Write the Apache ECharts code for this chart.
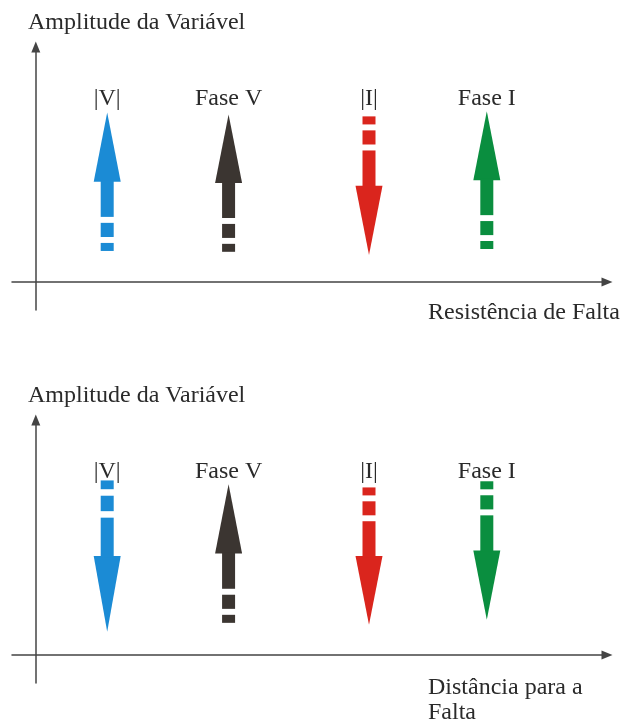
<!DOCTYPE html>
<html>
<head>
<meta charset="utf-8">
<script src="https://cdn.jsdelivr.net/npm/echarts@6/dist/echarts.min.js"></script>
<style>
  html, body { margin: 0; padding: 0; background: #fff; }
  #chart { width: 623px; height: 722px; }
</style>
</head>
<body>
<div id="chart"></div>
<script>
// categorias (rótulos das setas)
const rotulos = ['|V|', 'Fase V', '|I|', 'Fase I']
// posição de cada seta no eixo horizontal
const posicaoX = [3, 8.1, 14, 18.95]
// gráfico de cima: variação com a resistência de falta (cauda -> ponta)
const caudaResistencia = [1.11, 1.08, 5.92, 1.18]
const pontaResistencia = [6.06, 5.99, 0.97, 6.10]
// gráfico de baixo: variação com a distância para a falta
const caudaDistancia = [6.24, 1.15, 5.99, 6.21]
const pontaDistancia = [0.83, 6.10, 1.08, 1.26]
// altura dos rótulos acima das setas
const alturaRotulo = 6.56

const cores = ['#1B8BD5', '#3B3531', '#DA251D', '#0A8E3F']
const fonte = "'Liberation Serif', 'DejaVu Serif', serif"
const corTexto = '#2a2a2a'

const chart = echarts.init(document.getElementById('chart'))

// desenha uma seta com a cauda tracejada
function desenhaSeta (params, api) {
  const x = api.value(0)
  const p0 = api.coord([x, api.value(1)]) // cauda
  const p1 = api.coord([x, api.value(2)]) // ponta
  const cor = cores[params.dataIndex]
  const cx = p1[0]
  // ponto ao longo da seta, t = 0 na ponta e t = 1 na cauda
  const py = t => p1[1] + t * (p0[1] - p1[1])
  const largCabeca = 13.5
  const largHaste = 6.5
  const faixa = (a, b) => {
    const y1 = Math.min(py(a), py(b))
    const y2 = Math.max(py(a), py(b))
    return {
      type: 'rect',
      shape: { x: cx - largHaste, y: y1, width: largHaste * 2, height: y2 - y1 },
      style: { fill: cor }
    }
  }
  const rot = api.coord([x, alturaRotulo])
  return {
    type: 'group',
    children: [
      {
        type: 'polygon',
        shape: { points: [[cx, py(0)], [cx - largCabeca, py(0.5)], [cx + largCabeca, py(0.5)]] },
        style: { fill: cor }
      },
      faixa(0.49, 0.754),
      faixa(0.797, 0.899),
      faixa(0.942, 1.0),
      {
        type: 'text',
        style: {
          text: rotulos[params.dataIndex],
          x: rot[0],
          y: rot[1],
          align: 'center',
          verticalAlign: 'middle',
          font: '24px ' + fonte,
          fill: corTexto
        }
      }
    ]
  }
}

function montaDados (caudas, pontas) {
  return posicaoX.map((x, i) => [x, caudas[i], pontas[i]])
}

// eixos com seta na ponta
const eixoX = gridIndex => ({
  type: 'value',
  gridIndex,
  min: -1,
  max: 24,
  axisLine: {
    onZero: true,
    symbol: ['none', 'triangle'],
    symbolSize: [9, 11],
    lineStyle: { color: '#444', width: 1.5 }
  },
  axisTick: { show: false },
  axisLabel: { show: false },
  splitLine: { show: false }
})
const eixoY = gridIndex => ({
  type: 'value',
  gridIndex,
  min: -1,
  max: 8.4,
  axisLine: {
    show: true,
    onZero: true,
    symbol: ['none', 'triangle'],
    symbolSize: [9, 11],
    lineStyle: { color: '#444', width: 1.5 }
  },
  axisTick: { show: false },
  axisLabel: { show: false },
  splitLine: { show: false }
})

const estiloTitulo = { fontFamily: fonte, fontSize: 24, fontWeight: 'normal', color: corTexto }

const option = {
  animation: false,
  title: [
    { text: 'Amplitude da Variável', left: 28, top: 11, padding: 0, textStyle: estiloTitulo },
    { text: 'Resistência de Falta', left: 428, top: 301, padding: 0, textStyle: estiloTitulo },
    { text: 'Amplitude da Variável', left: 28, top: 384, padding: 0, textStyle: estiloTitulo },
    { text: 'Distância para a\nFalta', left: 428, top: 675, padding: 0, textStyle: { ...estiloTitulo, lineHeight: 25 } }
  ],
  grid: [
    { left: 12, right: 16, top: 47, height: 263 },
    { left: 12, right: 16, top: 420, height: 263 }
  ],
  xAxis: [eixoX(0), eixoX(1)],
  yAxis: [eixoY(0), eixoY(1)],
  series: [
    {
      type: 'custom',
      xAxisIndex: 0,
      yAxisIndex: 0,
      renderItem: desenhaSeta,
      data: montaDados(caudaResistencia, pontaResistencia)
    },
    {
      type: 'custom',
      xAxisIndex: 1,
      yAxisIndex: 1,
      renderItem: desenhaSeta,
      data: montaDados(caudaDistancia, pontaDistancia)
    }
  ]
}
chart.setOption(option)
</script>
</body>
</html>
